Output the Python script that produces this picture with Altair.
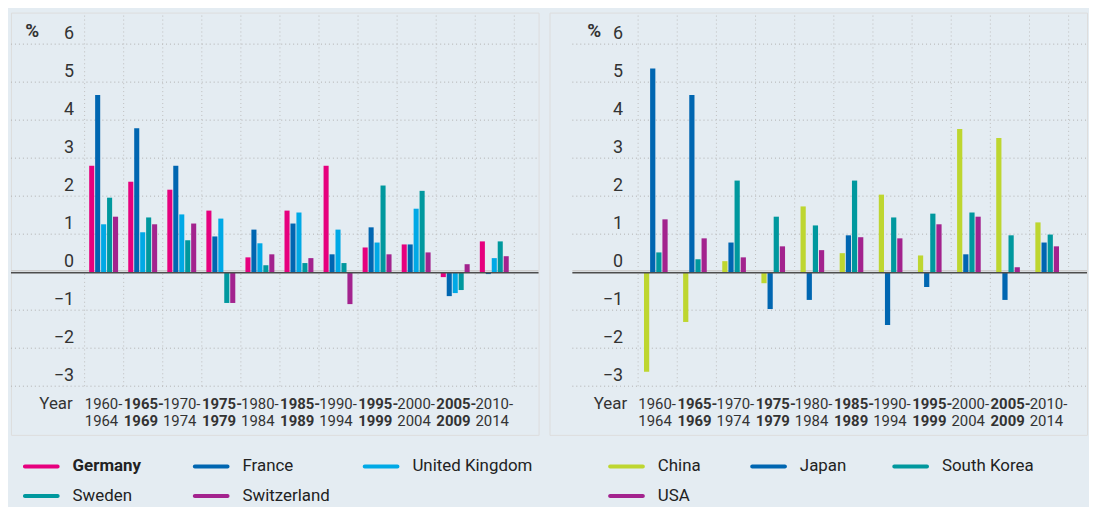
import altair as alt
import pandas as pd

periods = ["1960-1964", "1965-1969", "1970-1974", "1975-1979", "1980-1984", "1985-1989",
           "1990-1994", "1995-1999", "2000-2004", "2005-2009", "2010-2014"]
bold_periods = ["1965-1969", "1975-1979", "1985-1989", "1995-1999", "2005-2009"]
y_ticks = [-3, -2, -1, 0, 1, 2, 3, 4, 5, 6]

left_countries = ["Germany", "France", "United Kingdom", "Sweden", "Switzerland"]
left_colors = ["#e6007e", "#0066b1", "#00a9e6", "#00989e", "#a3238e"]
germany = [2.80, 2.38, 2.17, 1.62, 0.39, 1.62, 2.80, 0.65, 0.73, -0.13, 0.81]
france = [4.66, 3.79, 2.80, 0.94, 1.12, 1.28, 0.47, 1.18, 0.73, -0.63, -0.05]
united_kingdom = [1.26, 1.05, 1.52, 1.41, 0.76, 1.57, 1.12, 0.78, 1.67, -0.55, 0.37]
sweden = [1.96, 1.44, 0.84, -0.81, 0.18, 0.24, 0.24, 2.28, 2.14, -0.47, 0.81]
switzerland = [1.46, 1.26, 1.28, -0.81, 0.47, 0.37, -0.84, 0.47, 0.52, 0.21, 0.42]

right_countries = ["China", "Japan", "South Korea", "USA"]
right_colors = ["#bed630", "#0066b1", "#00989e", "#a3238e"]
china = [-2.62, -1.31, 0.29, -0.29, 1.73, 0.50, 2.04, 0.44, 3.77, 3.53, 1.31]
japan = [5.36, 4.66, 0.78, -0.97, -0.73, 0.97, -1.39, -0.39, 0.47, -0.73, 0.78]
south_korea = [0.52, 0.34, 2.41, 1.46, 1.23, 2.41, 1.44, 1.54, 1.57, 0.97, 0.99]
usa = [1.39, 0.89, 0.39, 0.68, 0.58, 0.92, 0.89, 1.26, 1.46, 0.13, 0.68]

FONT = "Roboto, 'Liberation Sans', sans-serif"
Y_MIN, Y_MAX = -4.28, 6.83
H = 425
# pill-shaped legend symbol (a short thick rounded line)
PILL = ("M-0.89,-0.108 L0.89,-0.108 A0.108,0.108 0 0 1 0.89,0.108 "
        "L-0.89,0.108 A0.108,0.108 0 0 1 -0.89,-0.108 Z")
bold_expr = "indexof(" + str(bold_periods).replace("'", '"') + ", datum.value) >= 0 ? 'bold' : 'normal'"


def panel(countries, colors, series, W, grid_x0, x_range, off_range,
          label_right, pct_x, year_x, legend_x):
    rows = []
    for c, vals in zip(countries, series):
        for p, v in zip(periods, vals):
            rows.append({"period": p, "country": c, "value": v})
    df = pd.DataFrame(rows)

    yscale = alt.Scale(domain=[Y_MIN, Y_MAX], nice=False, zero=False)
    xscale = alt.Scale(domain=periods, paddingInner=0, paddingOuter=0, range=x_range)
    x_axis = alt.Axis(
        title="Year", orient="bottom", offset=-49, domain=False, ticks=False, grid=False,
        labelAlign="left", labelOffset=-19.5, labelAngle=0,
        labelExpr="[substring(datum.value, 0, 5), substring(datum.value, 5)]",
        labelFontWeight={"expr": bold_expr}, labelPadding=10, labelLineHeight=18,
        labelFontSize=15, labelColor="#333333", labelOverlap=False, labelFont=FONT,
        titleX=year_x, titleY=17, titleAlign="left", titleBaseline="middle",
        titleFontSize=17, titleFontWeight="normal", titleColor="#333333", titleFont=FONT,
    )
    y_axis = alt.Axis(
        values=y_ticks, orient="left", offset=-label_right, domain=False, ticks=False,
        grid=False, labelPadding=0, labelFontSize=18, labelColor="#333333",
        labelBaseline="alphabetic", labelOffset=-6, labelAlign="right", labelFont=FONT,
        labelOverlap=False,
        title="%", titleAngle=0, titleX=pct_x - label_right, titleY=18, titleAlign="center",
        titleBaseline="middle", titleFontSize=19, titleFontWeight="bold",
        titleColor="#333333", titleFont=FONT,
    )

    ticks_df = pd.DataFrame({"v": [t for t in y_ticks if t != 0]})
    hgrid = alt.Chart(ticks_df).mark_rule(color="#b0b0b0", strokeDash=[1, 3], strokeWidth=1).encode(
        y=alt.Y("v:Q", scale=yscale, axis=y_axis), x=alt.value(grid_x0), x2=alt.value(W))

    per_df = pd.DataFrame({"period": periods})
    vgrid = alt.Chart(per_df).mark_rule(color="#bdbdbd", strokeDash=[1, 3], strokeWidth=1).encode(
        x=alt.X("period:N", scale=xscale, axis=x_axis, sort=periods, bandPosition=0),
        y=alt.datum(-3), y2=alt.datum(Y_MAX))
    last_df = pd.DataFrame({"period": [periods[-1]]})
    vgrid_end = alt.Chart(last_df).mark_rule(color="#bdbdbd", strokeDash=[1, 3], strokeWidth=1).encode(
        x=alt.X("period:N", scale=xscale, axis=x_axis, sort=periods, bandPosition=1),
        y=alt.datum(-3), y2=alt.datum(Y_MAX))

    zero_df = pd.DataFrame({"v": [0]})
    zero_light = alt.Chart(zero_df).mark_rule(color="#cccccc", strokeWidth=1.5, yOffset=-1.5).encode(
        y=alt.Y("v:Q", scale=yscale, axis=y_axis), x=alt.value(grid_x0), x2=alt.value(W))
    zero_dark = alt.Chart(zero_df).mark_rule(color="#4d4d4d", strokeWidth=1.5, yOffset=0.5).encode(
        y=alt.Y("v:Q", scale=yscale, axis=y_axis), x=alt.value(grid_x0), x2=alt.value(W))

    legend = alt.Legend(
        orient="none", legendX=legend_x, legendY=438, columns=3, direction="horizontal",
        title=None, symbolType=PILL, symbolSize=1369, symbolStrokeWidth=0, symbolOpacity=1,
        labelFontSize=17, labelColor="#222222", labelOffset=13, labelFont=FONT,
        labelFontWeight={"expr": "datum.value == 'Germany' ? 'bold' : 'normal'"},
        gridAlign="all", columnPadding=0, rowPadding=3, labelBaseline="middle",
    )
    bars = alt.Chart(df).mark_bar().encode(
        x=alt.X("period:N", scale=xscale, axis=x_axis, sort=periods),
        xOffset=alt.XOffset("country:N", sort=countries,
                            scale=alt.Scale(domain=countries, paddingInner=0.15,
                                            paddingOuter=0, range=off_range)),
        y=alt.Y("value:Q", scale=yscale, axis=y_axis),
        y2=alt.datum(0),
        color=alt.Color("country:N", scale=alt.Scale(domain=countries, range=colors),
                        legend=legend, sort=countries),
    )
    return alt.layer(hgrid, vgrid, vgrid_end, zero_light, bars, zero_dark).properties(width=W, height=H)


left = panel(left_countries, left_colors, [germany, france, united_kingdom, sweden, switzerland],
             W=531, grid_x0=0, x_range=[74.1, 506.6], off_range=[4.6, 33.7],
             label_right=63, pct_x=21, year_x=28, legend_x=12)
right = panel(right_countries, right_colors, [china, japan, south_korea, usa],
              W=541, grid_x0=23, x_range=[89.2, 522.5], off_range=[5.9, 29.7],
              label_right=73.5, pct_x=44.6, year_x=44, legend_x=59)

chart = alt.hconcat(left, right, spacing=8).resolve_scale(
    x="independent", y="independent", color="independent", xOffset="independent"
).resolve_legend(color="independent").properties(
    padding={"left": 1, "top": 2, "right": 0, "bottom": 0}, background="#e4ecf2"
).configure_view(fill="white", stroke="transparent").configure(font=FONT)

chart.save("out.html", embed_options={"renderer": "svg", "actions": False})
